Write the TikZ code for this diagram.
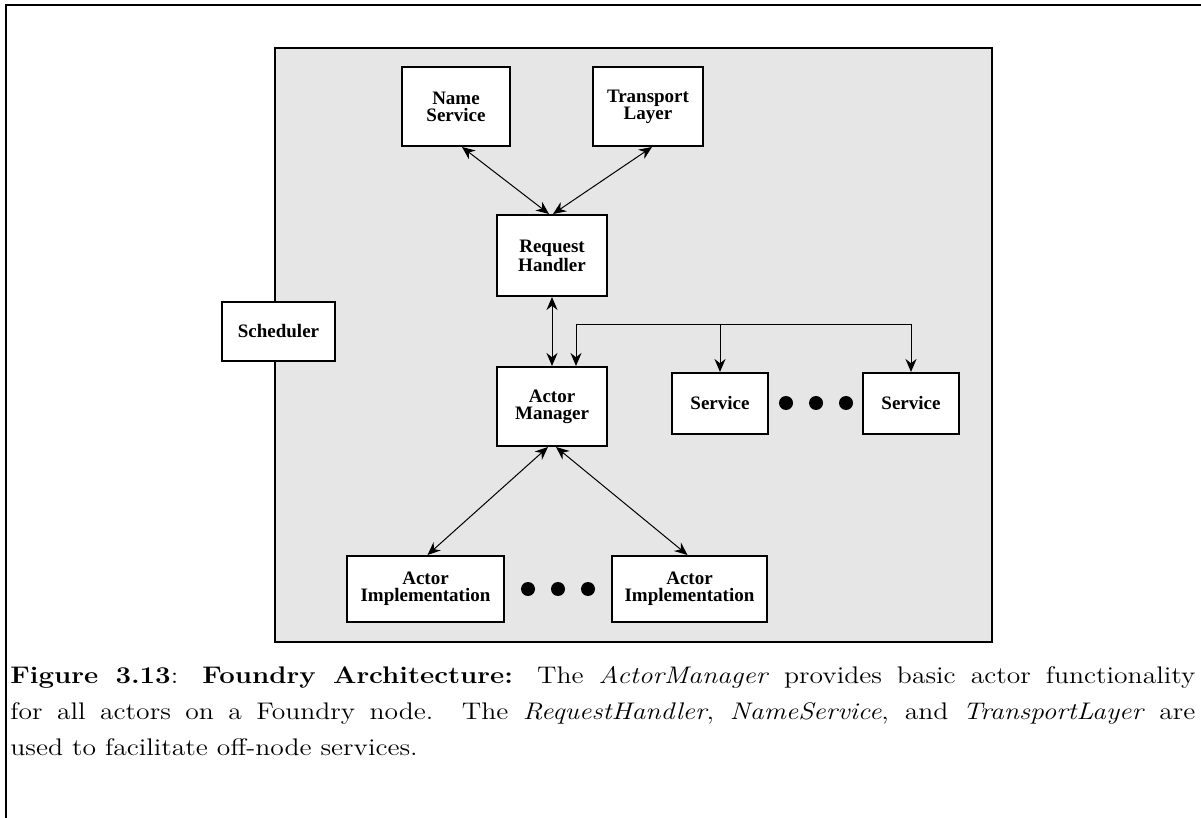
\documentclass[tikz,border=0pt]{standalone}
\usepackage{graphicx}
\usepackage{fontspec}
\newfontfamily\labelfont{Liberation Serif}
\usetikzlibrary{arrows.meta,calc}

\definecolor{panelgray}{HTML}{E6E6E6}

\tikzset{
  block/.style={draw=black, line width=1pt, fill=white, inner sep=0pt,
    align=center, font=\labelfont\bfseries\fontsize{9.5}{8.6}\selectfont},
  link/.style={line width=0.5pt, {Stealth[length=6.5pt,width=5.5pt]}-{Stealth[length=6.5pt,width=5.5pt]}},
  feed/.style={line width=0.5pt, -{Stealth[length=6.5pt,width=5.5pt]}},
  ellipsisdot/.style={circle, fill=black, inner sep=0pt, minimum size=7pt},
}

\begin{document}
\begin{tikzpicture}[x=0.5pt, y=-0.5pt]
  \useasboundingbox (0,0) rectangle (1201,818);

  % page frame (left and top rules)
  \draw[line width=1pt] (6,818) -- (6,5) -- (1201,5);

  % Foundry node panel
  \draw[line width=1pt, fill=panelgray] (275,48) rectangle (992,642);

  % components
  \node[block, minimum width=54pt, minimum height=39.5pt] (ns)  at (456,106.5) {Name\\Service};
  \node[block, minimum width=55pt, minimum height=39.5pt] (tl)  at (648,106.5) {Transport\\Layer};
  \node[block, minimum width=55pt, minimum height=40.5pt] (rh)  at (552,255.5) {Request\\Handler};
  \node[block, minimum width=55pt, minimum height=39.5pt] (am)  at (552,406.5) {Actor\\Manager};
  \node[block, minimum width=48pt, minimum height=30.5pt] (sv1) at (720,403.5) {Service};
  \node[block, minimum width=48pt, minimum height=30.5pt] (sv2) at (911,403.5) {Service};
  \node[block, minimum width=78.5pt, minimum height=33pt] (ai1) at (425.5,589) {Actor\\Implementation};
  \node[block, minimum width=77.5pt, minimum height=33pt] (ai2) at (689.5,589) {Actor\\Implementation};
  \node[block, minimum width=56.5pt, minimum height=29.5pt] (sch) at (278.5,331.5) {Scheduler};

  % ellipsis between services and between implementations
  \node[ellipsisdot] (sd1) at (786,403) {};
  \node[ellipsisdot] (sd2) at (816,403) {};
  \node[ellipsisdot] (sd3) at (846,403) {};
  \node[ellipsisdot] (id1) at (528,589) {};
  \node[ellipsisdot] (id2) at (558,589) {};
  \node[ellipsisdot] (id3) at (588,589) {};

  % request handler links
  \draw[link] ($(ns.south)+(6,0)$) -- ($(rh.north)+(-3,0)$);
  \draw[link] ($(tl.south)+(4,0)$) -- ($(rh.north)+(1,0)$);
  \draw[link] (rh.south) -- (am.north);

  % actor manager links
  \draw[link] ($(am.south)+(-4,0)$) -- ($(ai1.north)+(2,0)$);
  \draw[link] ($(am.south)+(4,0)$) -- ($(ai2.north)+(-2,0)$);

  % service bus
  \coordinate (bus) at (720,325);
  \draw[feed] (bus) -| ($(am.north)+(24,0)$);
  \draw[feed] (bus) -- (sv1.north);
  \draw[feed] (bus) -| (sv2.north);

  % caption, set slightly wide as printed
  \node[anchor=north west, inner sep=0pt] (cap) at (10,666)
    {\scalebox{1.15}[1]{\parbox[t]{515.2pt}{\fontsize{12}{18}\selectfont
     \textbf{Figure 3.13}: \textbf{Foundry Architecture:} The \textit{ActorManager} provides basic actor functionality\linebreak
     for all actors on a Foundry node. The \textit{RequestHandler}, \textit{NameService}, and \textit{TransportLayer} are\linebreak
     used to facilitate off-node services.}}};
\end{tikzpicture}
\end{document}
